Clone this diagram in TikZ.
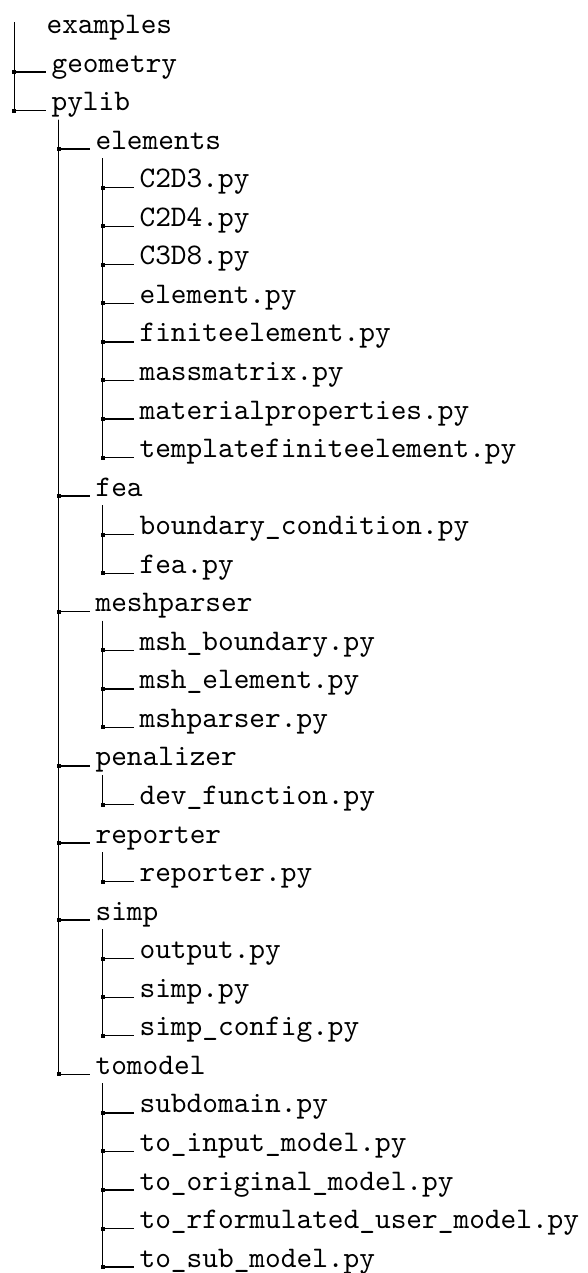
\documentclass[tikz,border=0pt]{standalone}
\usetikzlibrary{calc}

\begin{document}
\begin{tikzpicture}[x=0.3344pt, y=-0.3344pt, line width=0.45pt,
  entry/.style={anchor=base west, inner xsep=1.8pt, inner ysep=0pt, font=\ttfamily},
  twig/.style={black}]
  \useasboundingbox (0,0) rectangle (588,1273);
  % top entry and the trunk it hangs from
  \node[entry] (examples) at (40.5,33.5) {examples};
  \coordinate (root-top) at (14.3,22);
  % name / parent / depth / text
  \foreach \n/\p/\l/\t [count=\r] in {
      geometry/root/0/geometry, pylib/root/0/pylib,
      elements/pylib/1/elements,
        c2d3/elements/2/C2D3.py, c2d4/elements/2/C2D4.py, c3d8/elements/2/C3D8.py,
        element/elements/2/element.py, finiteelement/elements/2/finiteelement.py,
        massmatrix/elements/2/massmatrix.py, matprops/elements/2/materialproperties.py,
        templatefe/elements/2/templatefiniteelement.py,
      fea/pylib/1/fea,
        bcond/fea/2/boundary\_condition.py, feapy/fea/2/fea.py,
      meshparser/pylib/1/meshparser,
        mshboundary/meshparser/2/msh\_boundary.py, mshelement/meshparser/2/msh\_element.py,
        mshparserpy/meshparser/2/mshparser.py,
      penalizer/pylib/1/penalizer,
        devfunction/penalizer/2/dev\_function.py,
      reporter/pylib/1/reporter,
        reporterpy/reporter/2/reporter.py,
      simp/pylib/1/simp,
        output/simp/2/output.py, simppy/simp/2/simp.py, simpconfig/simp/2/simp\_config.py,
      tomodel/pylib/1/tomodel,
        subdomain/tomodel/2/subdomain.py, toinput/tomodel/2/to\_input\_model.py,
        tooriginal/tomodel/2/to\_original\_model.py,
        toreform/tomodel/2/to\_rformulated\_user\_model.py,
        tosub/tomodel/2/to\_sub\_model.py}{
    \pgfmathsetmacro{\ex}{45.5+44*\l}
    \pgfmathsetmacro{\ey}{33.5+38.55*\r}
    \node[entry] (\n) at (\ex,\ey) {\t};
    \draw[twig] (\p-top) |- (\n.base west);
    \fill (\p-top |- \n.base west) +(-2,-2) rectangle +(2,2);
    \coordinate (\n-top) at ($(\n.base west)+(13,9)$);
  }
\end{tikzpicture}
\end{document}
